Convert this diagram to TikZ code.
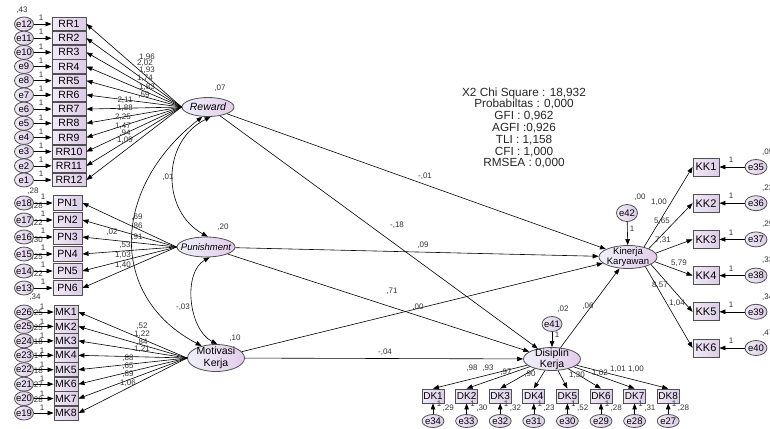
\documentclass[tikz,border=0pt]{standalone}
\usepackage{fontspec}
\setmainfont{Liberation Sans}
\usetikzlibrary{arrows.meta,shapes.geometric}
\definecolor{bline}{HTML}{505050}
\definecolor{boxL}{HTML}{F1EAF6}
\definecolor{boxR}{HTML}{DCCCE8}
\definecolor{latL}{HTML}{EEF0FA}
\definecolor{latR}{HTML}{E4CCEA}
\definecolor{numc}{HTML}{333333}
\begin{document}
\begin{tikzpicture}[x=1pt,y=-1pt,
  obs/.style={rectangle,draw=bline,line width=0.9pt,left color=boxL,right color=boxR,inner sep=0pt,font=\fontsize{10.5}{10.5}\selectfont},
  elab/.style={inner sep=0pt,font=\fontsize{9.5}{9.5}\selectfont},
  err/.style={ellipse,draw=bline,line width=0.8pt,left color=boxL,right color=boxR,inner sep=0pt,minimum width=19pt,minimum height=14pt,label={[elab]center:#1}},
  lat/.style={ellipse,draw=bline,line width=0.8pt,left color=latL,right color=latR,inner sep=0pt},
  num/.style={inner sep=0pt,font=\fontsize{8}{8}\selectfont,text=numc},
  arr/.style={-{Triangle[length=6pt,width=4.5pt]},line width=0.6pt},
  darr/.style={{Triangle[length=6pt,width=4.5pt]}-{Triangle[length=6pt,width=4.5pt]},line width=0.6pt}
]
\useasboundingbox (0,0) rectangle (770,428);

% variance labels partly covered by the error circles
\node[num] (v43) at (22,10) {,43};
\node[num] (vpn1) at (33,191.5) {,28};
\foreach \y/\t [count=\n] in {220/{,28},237/{,22},254/{,30},271/{,25},288/{,22}}
  \node[num,anchor=east] (vpnb\n) at (43,{\y-14}) {\t};
\node[num] (vmk1) at (35,297) {,34};
\foreach \k/\t in {2/{,25},3/{,25},4/{,18},5/{,14},6/{,18},7/{,27},8/{,28}}
  \node[num,anchor=east] (vmk\k) at (43,{312+(\k-1)*14.43-13}) {\t};

% RR block
\foreach \i in {1,...,12}{
  \pgfmathtruncatemacro\j{13-\i}
  \node[obs,minimum width=34pt,minimum height=13.2pt] (rr\i) at (69,{24+(\i-1)*14.18}) {RR\i};
  \node[err=e\j] (e\j) at (24,{24+(\i-1)*14.18}) {};
  \node[num] (orr\i) at (41,{24+(\i-1)*14.18-6}) {1};
  \draw[arr] (e\j) -- (rr\i);
}
% PN block
\foreach \i in {1,...,6}{
  \pgfmathtruncatemacro\j{19-\i}
  \node[obs,minimum width=29pt,minimum height=15pt] (pn\i) at (67.5,{203+(\i-1)*17}) {PN\i};
  \node[err=e\j] (e\j) at (24,{203+(\i-1)*17}) {};
  \node[num] (opn\i) at (43,{203+(\i-1)*17-6}) {1};
  \draw[arr] (e\j) -- (pn\i);
}
% MK block
\foreach \i in {1,...,8}{
  \pgfmathtruncatemacro\j{27-\i}
  \node[obs,minimum width=24pt,minimum height=14pt] (mk\i) at (66,{312+(\i-1)*14.43}) {MK\i};
  \node[err=e\j] (e\j) at (24,{312+(\i-1)*14.43}) {};
  \node[num] (omk\i) at (42,{312+(\i-1)*14.43-5}) {1};
  \draw[arr] (e\j) -- (mk\i);
}

% latent variables
\node[lat,minimum width=52pt,minimum height=19pt,label={[inner sep=0pt,font=\itshape\fontsize{10.5}{10.5}\selectfont]center:Reward}] (rew) at (208,107) {};
\node[lat,minimum width=58pt,minimum height=20pt,label={[inner sep=0pt,font=\itshape\fontsize{9.5}{9.5}\selectfont]center:Punishment}] (pun) at (206,247) {};
\node[lat,minimum width=57pt,minimum height=27pt,label={[inner sep=0pt,align=center,font=\fontsize{10.5}{11.5}\selectfont]center:Motivasi\\Kerja}] (mot) at (216,358) {};
\node[lat,minimum width=58pt,minimum height=23pt,label={[inner sep=0pt,align=center,font=\fontsize{9.5}{10.5}\selectfont]center:Kinerja\\Karyawan}] (kin) at (628,257) {};
\node[lat,minimum width=57pt,minimum height=23pt,label={[inner sep=0pt,align=center,font=\fontsize{10.5}{11}\selectfont]center:Disiplin\\Kerja}] (dis) at (552,359) {};
\node[err=e42,minimum width=21pt,minimum height=17pt] (e42) at (627,213) {};
\node[err=e41,minimum width=20pt,minimum height=15pt] (e41) at (552,324) {};

% loadings of exogenous constructs
\foreach \i in {1,...,12} \draw[arr] (rew.west) -- (rr\i.east);
\foreach \i in {1,...,6} \draw[arr] (pun.west) -- (pn\i.east);
\foreach \i in {1,...,8} \draw[arr] (mot.west) -- (mk\i.east);

% covariances
\draw[darr] (rew.240) .. controls +(-90,70) and +(-95,-50) .. (mot.140);
\draw[darr] (rew.285) .. controls +(-50,25) and +(-46,-25) .. (pun.80);
\draw[darr] (pun.290) .. controls +(-27,15) and +(-29,-15) .. (mot.85);

% structural paths
\draw[arr] (rew) -- (kin);
\draw[arr] (rew) -- (dis);
\draw[arr] (pun) -- (kin);
\draw[arr] (pun) -- (dis);
\draw[arr] (mot) -- (kin);
\draw[arr] (mot) -- (dis);
\draw[arr] (dis) -- (kin);
\draw[arr] (e42) -- (kin);
\draw[arr] (e41) -- (dis);

% KK block
\foreach \i in {1,...,6}{
  \pgfmathtruncatemacro\j{34+\i}
  \node[obs,minimum width=26pt,minimum height=18pt,font=\fontsize{11}{11}\selectfont] (kk\i) at (706,{167+(\i-1)*36.2}) {KK\i};
  \node[err=e\j,minimum width=22pt,minimum height=15pt] (e\j) at (756,{167+(\i-1)*36.2}) {};
  \node[num] (okk\i) at (731,{167+(\i-1)*36.2-7}) {1};
  \draw[arr] (e\j) -- (kk\i);
}
\foreach \a [count=\i] in {32,22,8,-10,-18,-29} \draw[arr] (kin.\a) -- (kk\i.west);
\foreach \t [count=\i] in {{,05},{,23},{,29},{,33},{,34},{,47}}
  \node[num,anchor=west] (vkk\i) at (762,{167+(\i-1)*36.2-15}) {\t};

% DK block
\foreach \i/\t in {1/{,29},2/{,30},3/{,32},4/{,23},5/{,52},6/{,28},7/{,31},8/{,28}}{
  \pgfmathtruncatemacro\j{35-\i}
  \node[obs,minimum width=22pt,minimum height=14pt,font=\fontsize{10}{10}\selectfont] (dk\i) at ({433+(\i-1)*33.6},396) {DK\i};
  \node[err=e\j,minimum width=22pt,minimum height=13pt] (e\j) at ({433+(\i-1)*33.6},421) {};
  \draw[arr] (e\j) -- (dk\i);
  \draw[arr] (dis) -- (dk\i.north);
  \node[num] (odk\i) at ({433+(\i-1)*33.6+6},403.5) {1};
  \node[num,anchor=west] (vdk\i) at ({433+(\i-1)*33.6+9.5},408.5) {\t};
}

% parameter labels
\foreach \x/\y/\t [count=\n] in {147/57/{1,96},145/63/{2,02},147/70/{1,93},145/78/{1,74},147/87/{1,83},144/95/{,59},125/100/{2,11},125/108/{1,88},123/117/{2,25},123/126/{1,47},125/133/{,94},125/140/{1,09}}
  \node[num] (lrr\n) at (\x,\y) {\t};
\foreach \x/\y/\t [count=\n] in {137/217/{,69},137/226/{,86},112/232/{,02},137/237/{,91},125/245/{,53},123/255/{1,03},123/265/{1,40}}
  \node[num] (lpn\n) at (\x,\y) {\t};
\foreach \x/\y/\t [count=\n] in {142/326/{,52},142/334/{1,22},142/342/{,84},142/349/{1,21},128/358/{,88},128/366/{,65},128/374/{,89},128/383/{1,06}}
  \node[num] (lmk\n) at (\x,\y) {\t};
\foreach \x/\y/\t [count=\n] in {659/202/{1,00},662/221/{5,65},663/240/{7,31},679/263/{5,79},660/285/{8,57},677/303/{1,04}}
  \node[num] (lkk\n) at (\x,\y) {\t};
\foreach \x/\y/\t [count=\n] in {472/368/{,98},488/368/{,93},506/372/{,97},530/374/{,90},577/375/{1,30},600/373/{1,02},618/369/{1,01},636/369/{1,00}}
  \node[num] (ldk\n) at (\x,\y) {\t};
\foreach \x/\y/\t [count=\n] in {425/176/{-,01},397/225/{-,18},423/245/{,09},392/291/{,71},418/307/{,00},385/352/{-,04},588/306/{,06},220/88/{,07},223/227/{,20},235/338/{,10},640/197/{,00},563/309/{,02},632/229/{1},557/335/{1},168/177/{,01},183/307/{-,03}}
  \node[num] (ls\n) at (\x,\y) {\t};

% fit indices
\node[align=center,inner sep=0pt,font=\fontsize{11.8}{11.8}\selectfont,text=black!85] (fit) at (524,128) {X2 Chi Square : 18,932\\Probabiltas : 0,000\\GFI : 0,962\\AGFI :0,926\\TLI : 1,158\\CFI : 1,000\\RMSEA : 0,000};
\end{tikzpicture}
\end{document}
